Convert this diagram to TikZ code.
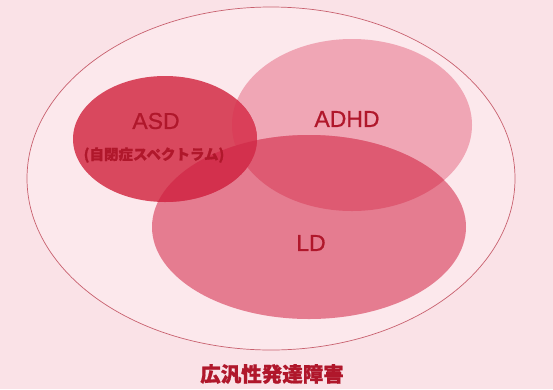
\documentclass[tikz,border=0pt]{standalone}
\usepackage{fontspec}
\setmainfont{Liberation Sans}
\newfontfamily\latmed[BoldFont={Liberation Sans}, BoldFeatures={FakeBold=0.8}]{Liberation Sans}
\newfontfamily\cjk[FakeBold=1.0]{Noto Sans CJK JP}
\definecolor{bgpink}{HTML}{FAE2E7}
\definecolor{innerpink}{HTML}{FCE8EC}
\definecolor{rimred}{HTML}{C8606E}
\definecolor{asdcol}{HTML}{D9485E}
\definecolor{adhdcol}{HTML}{F0A6B5}
\definecolor{ldcol}{HTML}{E57C90}
\definecolor{asdld}{HTML}{D3304D}
\definecolor{adhdld}{HTML}{DE5A72}
\definecolor{asdadhd}{HTML}{DA3F59}
\definecolor{txtred}{HTML}{B0172B}
\tikzset{
  lab/.style={text=txtred, inner sep=0pt},
  biglab/.style={lab, font=\latmed\bfseries\fontsize{23}{26}\selectfont},
}
\begin{document}
\begin{tikzpicture}[x=1pt,y=-1pt]
\useasboundingbox (0,0) rectangle (553,389);
\fill[bgpink] (0,0) rectangle (553,389);
% outer
\draw[rimred, line width=0.7pt, fill=innerpink] (271,178.5) ellipse [x radius=244, y radius=171.5];
% ADHD, LD, ASD
\fill[adhdcol] (352,125) ellipse [x radius=120, y radius=86];
\fill[ldcol] (309,227) ellipse [x radius=157, y radius=92];
\fill[asdcol] (165,139) ellipse [x radius=92, y radius=63];
% overlaps
\begin{scope}
  \clip (352,125) ellipse [x radius=120, y radius=86];
  \fill[adhdld] (309,227) ellipse [x radius=157, y radius=92];
  \fill[asdadhd] (165,139) ellipse [x radius=92, y radius=63];
\end{scope}
\begin{scope}
  \clip (309,227) ellipse [x radius=157, y radius=92];
  \fill[asdld] (165,139) ellipse [x radius=92, y radius=63];
\end{scope}
% labels
\node[biglab] (asd) at (156,121) {ASD};
\node[lab, font=\cjk\bfseries\fontsize{14.5}{16}\selectfont] (asdsub) at (154,155) {(自閉症スペクトラム)};
\node[biglab] (adhd) at (347,119) {ADHD};
\node[biglab] (ld) at (311,243) {LD};
\node[lab, font=\cjk\bfseries\fontsize{20.5}{24}\selectfont] (pdd) at (272,374) {広汎性発達障害};
\end{tikzpicture}
\end{document}
